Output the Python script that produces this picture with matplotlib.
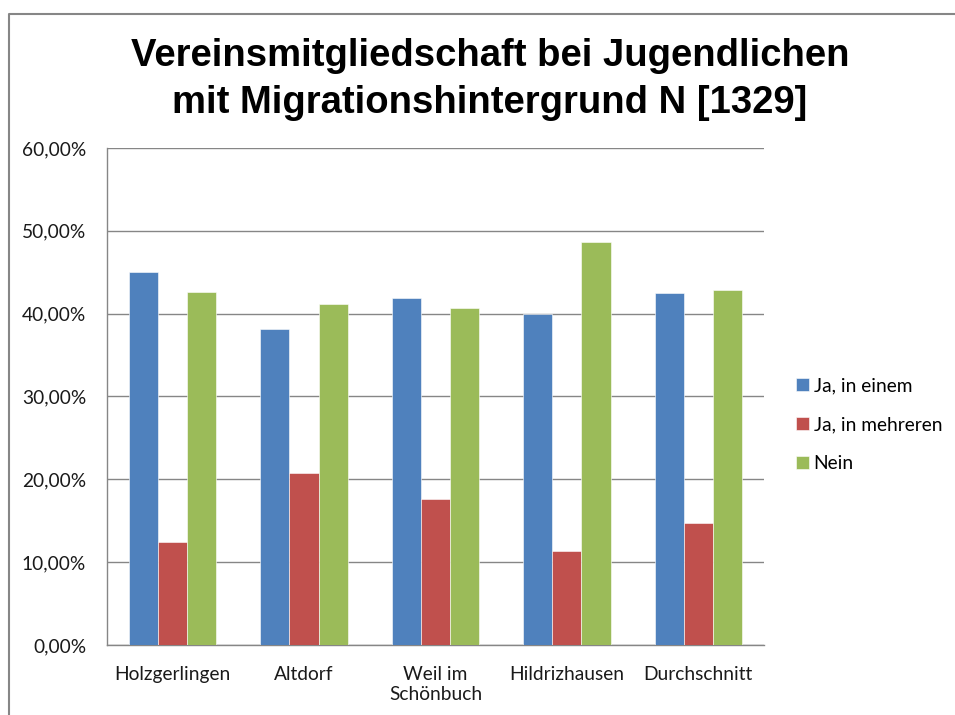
import matplotlib
matplotlib.use("Agg")
import matplotlib.pyplot as plt
import numpy as np
from matplotlib.lines import Line2D
from matplotlib.ticker import FuncFormatter

# data
orte = ["Holzgerlingen", "Altdorf", "Weil im\nSchönbuch", "Hildrizhausen", "Durchschnitt"]
ja_einem = [45.0, 38.2, 41.9, 40.0, 42.5]
ja_mehreren = [12.4, 20.7, 17.6, 11.4, 14.7]
nein = [42.6, 41.2, 40.7, 48.7, 42.9]
serien = ["Ja, in einem", "Ja, in mehreren", "Nein"]
farben = ["#4F81BD", "#C0504D", "#9BBB59"]

fig = plt.figure(figsize=(9.55, 7.15), dpi=100)
ax = fig.add_axes([0.112, 0.098, 0.688, 0.695])

# outer chart frame, cut off on the right and bottom like the screenshot
fx, fy = 8.5 / 955, 1 - 14 / 715
fig.lines.append(Line2D([fx, fx, 1.05], [-0.05, fy, fy], transform=fig.transFigure,
                        color="#868686", linewidth=1.5))

x = np.arange(len(orte))
w = 0.222
for i, (werte, name, c) in enumerate(zip([ja_einem, ja_mehreren, nein], serien, farben)):
    ax.bar(x + (i - 1) * w, werte, width=w, color=c, label=name,
           edgecolor="#FFFFFF", linewidth=0.4, zorder=3)

ax.set_xlim(-0.5, len(orte) - 0.5)
ax.set_ylim(0, 60)
ax.set_yticks(np.arange(0, 61, 10))
ax.yaxis.set_major_formatter(FuncFormatter(lambda v, p: f"{v:.2f}%".replace(".", ",")))
ax.set_xticks(x)
ax.set_xticklabels(orte)
ax.tick_params(axis="both", length=0, labelsize=13.8, colors="#1a1a1a")
ax.tick_params(axis="y", pad=15)
ax.tick_params(axis="x", pad=15)
for lab in ax.get_xticklabels() + ax.get_yticklabels():
    lab.set_family("Lato")

ax.grid(axis="y", color="#868686", linewidth=1.0, zorder=0)
ax.set_axisbelow(True)
for s in ["top", "right"]:
    ax.spines[s].set_visible(False)
for s in ["left", "bottom"]:
    ax.spines[s].set_color("#868686")
    ax.spines[s].set_linewidth(1.0)

fig.text(0.513, 0.889, "Vereinsmitgliedschaft bei Jugendlichen\nmit Migrationshintergrund N [1329]",
         ha="center", va="center", fontsize=27.5, fontweight="bold",
         family="Liberation Sans", linespacing=1.4)

fig.legend(loc="center left", bbox_to_anchor=(0.833, 0.406), frameon=False,
           handlelength=0.7, handleheight=0.7, handletextpad=0.25,
           labelspacing=1.15, borderpad=0, borderaxespad=0,
           prop={"family": "Lato", "size": 13.8})

fig.savefig("out.png", dpi=100)
